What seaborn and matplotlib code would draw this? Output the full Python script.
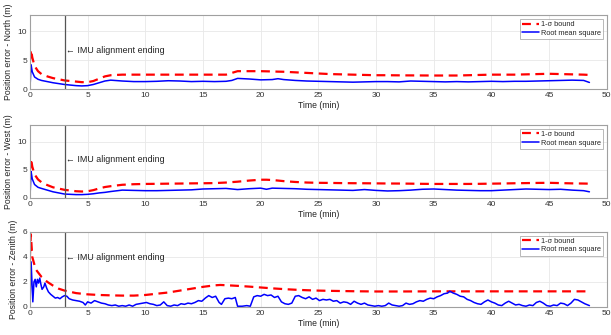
import numpy as np
import pandas as pd
import seaborn as sns
import matplotlib
matplotlib.use("Agg")
import matplotlib.pyplot as plt

# ---------------- data ----------------
t_north = [0, 0.1, 0.2, 0.4, 0.7, 1, 1.5, 2, 3, 4, 4.5, 5, 5.5, 6, 6.5, 7, 8, 9, 10, 11, 12, 13, 14, 15,
           16, 17, 17.5, 18, 19, 20, 21, 21.5, 22, 23, 24, 25, 26, 27, 28, 29, 30, 31, 32, 33, 34, 35,
           36, 37, 38, 39, 40, 41, 42, 43, 44, 45, 46, 47, 48, 48.5]
rms_north = [0, 4.2, 3.0, 2.1, 1.7, 1.5, 1.3, 1.1, 0.8, 0.6, 0.55, 0.6, 0.8, 1.1, 1.4, 1.55, 1.4, 1.3, 1.3,
             1.35, 1.45, 1.4, 1.3, 1.35, 1.3, 1.35, 1.5, 1.85, 1.75, 1.6, 1.65, 1.8, 1.65, 1.5, 1.4, 1.35,
             1.3, 1.25, 1.2, 1.25, 1.3, 1.3, 1.25, 1.4, 1.35, 1.3, 1.25, 1.3, 1.25, 1.3, 1.35, 1.3, 1.35,
             1.35, 1.4, 1.45, 1.5, 1.55, 1.5, 1.15]
sig_north = [5.0, 6.8, 5.5, 4.0, 3.1, 2.6, 2.2, 1.9, 1.5, 1.3, 1.2, 1.2, 1.4, 1.8, 2.2, 2.4, 2.5, 2.5, 2.5,
             2.5, 2.5, 2.5, 2.5, 2.5, 2.5, 2.5, 2.8, 3.1, 3.1, 3.1, 3.05, 3.02, 3.0, 2.9, 2.8, 2.7, 2.6,
             2.55, 2.5, 2.45, 2.4, 2.4, 2.38, 2.37, 2.36, 2.35, 2.35, 2.35, 2.4, 2.45, 2.5, 2.5, 2.5, 2.55,
             2.6, 2.65, 2.6, 2.55, 2.5, 2.45]

t_west = [0, 0.1, 0.2, 0.4, 0.7, 1, 1.5, 2, 3, 4, 4.5, 5, 5.5, 6, 6.5, 7, 8, 9, 10, 11, 12, 13, 14, 15,
          16, 17, 18, 19, 20, 20.5, 21, 22, 23, 24, 25, 26, 27, 28, 29, 30, 31, 32, 33, 34, 35, 36, 37,
          38, 39, 40, 41, 42, 43, 44, 45, 46, 47, 48, 48.5]
rms_west = [0, 4.7, 3.4, 2.4, 1.9, 1.7, 1.4, 1.1, 0.7, 0.6, 0.6, 0.65, 0.75, 0.9, 1.0, 1.15, 1.4, 1.35,
            1.3, 1.3, 1.35, 1.4, 1.45, 1.6, 1.65, 1.7, 1.5, 1.65, 1.75, 1.55, 1.75, 1.7, 1.65, 1.55, 1.5,
            1.45, 1.4, 1.35, 1.5, 1.35, 1.25, 1.3, 1.4, 1.55, 1.6, 1.5, 1.4, 1.35, 1.3, 1.3, 1.4, 1.5,
            1.6, 1.55, 1.5, 1.55, 1.4, 1.3, 1.1]
sig_west = [5.0, 7.0, 5.6, 4.2, 3.3, 2.8, 2.3, 1.9, 1.45, 1.2, 1.15, 1.2, 1.4, 1.7, 1.95, 2.1, 2.35, 2.45,
            2.5, 2.52, 2.55, 2.57, 2.6, 2.62, 2.65, 2.75, 2.9, 3.1, 3.25, 3.25, 3.2, 3.0, 2.85, 2.75, 2.7,
            2.68, 2.65, 2.63, 2.62, 2.6, 2.58, 2.57, 2.55, 2.52, 2.5, 2.5, 2.5, 2.5, 2.52, 2.55, 2.58,
            2.62, 2.65, 2.68, 2.7, 2.65, 2.6, 2.57, 2.55]

t_zen_sig = [0, 0.08, 0.2, 0.5, 1, 1.5, 2, 2.5, 3, 4, 5, 6, 7, 8, 9, 10, 11, 12, 13, 14, 15, 16, 16.5,
             17, 18, 19, 20, 21, 22, 23, 24, 25, 26, 28, 30, 32, 35, 40, 45, 48.5]
sig_zen = [4.1, 5.8, 4.0, 3.0, 2.4, 2.0, 1.7, 1.45, 1.3, 1.1, 1.0, 0.95, 0.92, 0.9, 0.9, 0.95, 1.05,
           1.15, 1.3, 1.45, 1.6, 1.72, 1.75, 1.73, 1.68, 1.62, 1.55, 1.48, 1.42, 1.37, 1.33, 1.3, 1.28,
           1.25, 1.23, 1.23, 1.24, 1.24, 1.24, 1.24]

t_zen = [0, 0.1, 0.2, 0.25, 0.35, 0.45, 0.55, 0.65, 0.75, 0.85, 0.95, 1.05, 1.2, 1.3, 1.45, 1.6, 1.8,
         2.0, 2.2, 2.4, 2.6, 2.8, 3.0, 3.2, 3.4, 3.7, 4.0, 4.3, 4.6, 4.8, 5.0, 5.3, 5.6, 5.9, 6.2, 6.5,
         6.8, 7.1, 7.4, 7.7, 8.0, 8.3, 8.6, 8.9, 9.2, 9.5, 9.8, 10.1, 10.4, 10.7, 11.0, 11.3, 11.6,
         11.9, 12.2, 12.5, 12.8, 13.1, 13.4, 13.7, 14.0, 14.3, 14.6, 14.9, 15.2, 15.5, 15.8, 16.1,
         16.4, 16.6, 16.9, 17.2, 17.5, 17.8, 18.0, 18.4, 18.8, 19.1, 19.4, 19.7, 20.0, 20.3, 20.6,
         20.9, 21.2, 21.5, 21.8, 22.1, 22.4, 22.7, 23.0, 23.3, 23.6, 23.9, 24.2, 24.5, 24.8, 25.1,
         25.4, 25.7, 26.0, 26.3, 26.6, 26.9, 27.2, 27.5, 27.8, 28.1, 28.4, 28.7, 29.0, 29.3, 29.6,
         29.9, 30.2, 30.5, 30.8, 31.1, 31.4, 31.7, 32.0, 32.3, 32.6, 32.9, 33.2, 33.5, 33.8, 34.1,
         34.4, 34.7, 35.0, 35.3, 35.6, 35.9, 36.2, 36.4, 36.7, 37.0, 37.3, 37.6, 37.9, 38.2, 38.5,
         38.8, 39.1, 39.4, 39.7, 40.0, 40.3, 40.6, 40.9, 41.2, 41.5, 41.8, 42.1, 42.4, 42.7, 43.0,
         43.3, 43.6, 43.9, 44.2, 44.5, 44.8, 45.1, 45.4, 45.7, 46.0, 46.3, 46.6, 46.9, 47.2, 47.5,
         47.8, 48.1, 48.5]
rms_zen = [0.0, 3.6, 1.5, 0.4, 2.0, 2.2, 1.6, 2.2, 1.9, 2.3, 1.8, 1.4, 1.6, 1.9, 1.5, 1.2, 1.0, 0.85,
           0.7, 0.75, 0.65, 0.8, 0.9, 0.85, 0.65, 0.55, 0.5, 0.45, 0.35, 0.15, 0.4, 0.3, 0.5, 0.4, 0.3,
           0.25, 0.15, 0.1, 0.15, 0.05, 0.1, 0.05, 0.15, 0.05, 0.2, 0.25, 0.3, 0.35, 0.25, 0.2, 0.1,
           0.15, 0.4, 0.1, 0.05, 0.15, 0.1, 0.25, 0.2, 0.3, 0.25, 0.35, 0.5, 0.45, 0.7, 0.9, 0.75, 0.85,
           0.35, 0.2, 0.65, 0.7, 0.65, 0.75, 0.05, 0.05, 0.1, 0.05, 0.8, 0.9, 0.85, 1.0, 0.9, 0.95,
           0.75, 0.85, 0.4, 0.25, 0.2, 0.3, 0.85, 0.9, 0.75, 0.65, 0.8, 0.6, 0.7, 0.5, 0.6, 0.55, 0.6,
           0.45, 0.5, 0.3, 0.4, 0.35, 0.2, 0.45, 0.3, 0.2, 0.3, 0.15, 0.1, 0.05, 0.1, 0.05, 0.1, 0.3,
           0.15, 0.1, 0.05, 0.1, 0.3, 0.2, 0.25, 0.4, 0.5, 0.45, 0.6, 0.7, 0.65, 0.8, 0.9, 1.05, 1.1,
           1.25, 1.1, 1.0, 0.85, 0.8, 0.6, 0.5, 0.35, 0.25, 0.2, 0.4, 0.55, 0.4, 0.3, 0.15, 0.1, 0.3,
           0.45, 0.3, 0.15, 0.2, 0.1, 0.05, 0.15, 0.1, 0.35, 0.45, 0.3, 0.1, 0.05, 0.15, 0.1, 0.3,
           0.25, 0.1, 0.3, 0.6, 0.55, 0.4, 0.25, 0.1]

panels = [
    ("Position error - North (m)", t_north, sig_north, t_north, rms_north, 12.8, [0, 5, 10], 6.6),
    ("Position error - West (m)", t_west, sig_west, t_west, rms_west, 13.0, [0, 5, 10], 6.8),
    ("Position error - Zenith (m)", t_zen_sig, sig_zen, t_zen, rms_zen, 6.0, [0, 2, 4, 6], 3.95),
]
align_time = 3
x_ticks = list(range(0, 51, 5))

# ---------------- plot ----------------
sns.set_theme(style="whitegrid")
plt.rcParams["font.family"] = ["Liberation Sans", "DejaVu Sans"]

fig = plt.figure(figsize=(6.11, 3.35), dpi=100)
boxes = [(0.049, 0.734, 0.944, 0.221),
         (0.049, 0.409, 0.944, 0.218),
         (0.049, 0.084, 0.944, 0.224)]

for (ylabel, ts, sig, tr, rms, ytop, yticks, ytext), box in zip(panels, boxes):
    ax = fig.add_axes(box)
    sns.lineplot(x=ts, y=sig, ax=ax, color="#ff0000", lw=1.6, label="1-\u03c3 bound",
                 sort=False)
    ax.lines[-1].set_dashes((4, 2.5))
    sns.lineplot(x=tr, y=rms, ax=ax, color="#0000ff", lw=1.1, label="Root mean square",
                 sort=False)
    ax.axvline(align_time, color="#555555", lw=0.9)
    ax.text(align_time + 0.15, ytext, "\u2190 IMU alignment ending", fontsize=6.4,
            va="center", ha="left", color="#222222")
    ax.set_xlim(0, 50)
    ax.set_ylim(0, ytop)
    ax.set_xticks(x_ticks)
    ax.set_yticks(yticks)
    ax.tick_params(labelsize=6, colors="#333333", length=0, pad=2)
    ax.set_xlabel("Time (min)", fontsize=6.2, color="#222222", labelpad=1.5)
    ax.set_ylabel(ylabel, fontsize=6.2, color="#222222", labelpad=3)
    ax.grid(True, color="#e8e8e8", lw=0.6)
    for s in ax.spines.values():
        s.set_color("#a0a0a0")
        s.set_linewidth(0.8)
    leg = ax.legend(loc="upper right", fontsize=5.3, frameon=True, fancybox=False,
                    handlelength=2.3, borderpad=0.3, labelspacing=0.2, handletextpad=0.2,
                    borderaxespad=0.5)
    leg.get_frame().set_edgecolor("#999999")
    leg.get_frame().set_linewidth(0.6)

fig.savefig("out.png", dpi=100)
